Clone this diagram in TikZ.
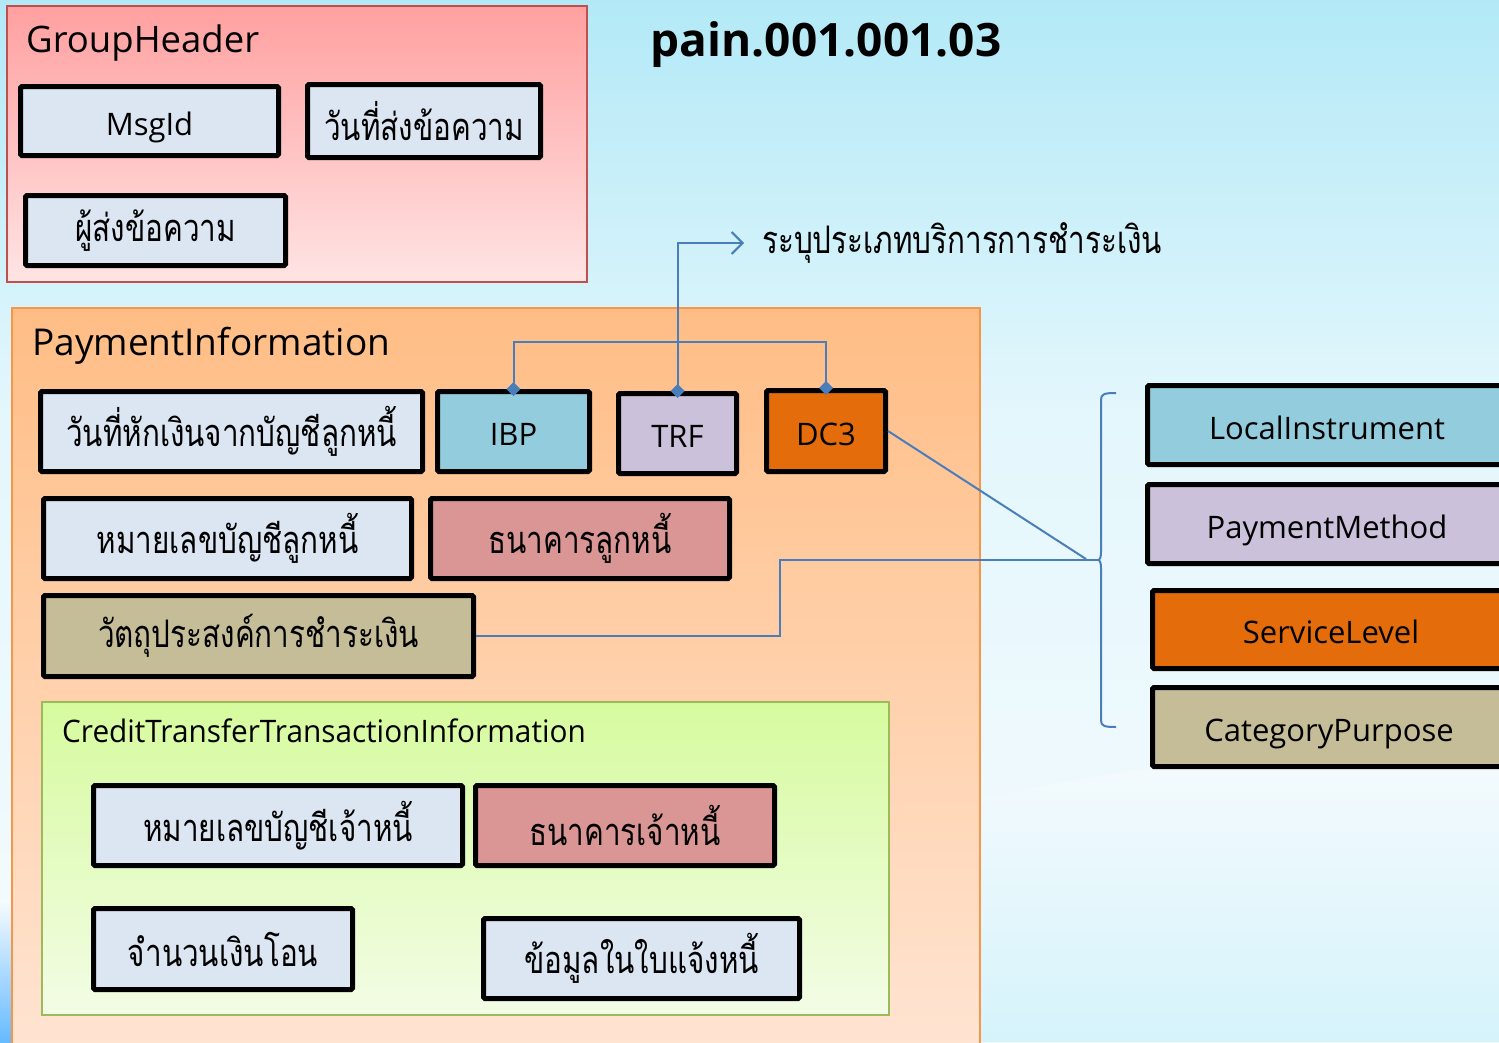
\documentclass[tikz,border=0pt]{standalone}
\usepackage{fontspec}
\setmainfont{Open Sans}
\newfontfamily\thaifont[Script=Thai, FakeStretch=0.78]{Loma}
\usetikzlibrary{arrows.meta}
\newcommand\setfs[1]{\fontsize{#1}{#1}\selectfont}
\definecolor{bgtop}{HTML}{B3E9F7}
\definecolor{bgmid}{HTML}{E4F7FC}
\definecolor{bgbot}{HTML}{F6FBFE}
\definecolor{cLight}{HTML}{DCE6F2}
\definecolor{cBlue}{HTML}{93CDDD}
\definecolor{cLilac}{HTML}{CCC1DA}
\definecolor{cOrange}{HTML}{E46C0A}
\definecolor{cRose}{HTML}{D99694}
\definecolor{cKhaki}{HTML}{C4BD97}
\definecolor{cLine}{HTML}{4A7EBB}
\definecolor{ghTop}{HTML}{FFA0A0}
\definecolor{ghBot}{HTML}{FFE4E4}
\definecolor{ghBorder}{HTML}{C0504D}
\definecolor{piTop}{HTML}{FFBD85}
\definecolor{piBot}{HTML}{FFE6D6}
\definecolor{piBorder}{HTML}{F79646}
\definecolor{ctTop}{HTML}{D6FB9E}
\definecolor{ctBot}{HTML}{F3FCE6}
\definecolor{ctBorder}{HTML}{9BBB59}
\begin{document}
\begin{tikzpicture}[x=1pt,y=-1pt,
  item/.style={draw=black, line width=5pt, rounded corners=1.5pt, inner sep=0pt, font=\setfs{31}, text height=28pt, text depth=0pt},
  thitem/.style={draw=black, line width=5pt, rounded corners=1.5pt, inner sep=0pt, font={\thaifont\setfs{38}}},
  group/.style={line width=2pt, inner sep=0pt},
  label/.style={inner sep=0pt, anchor=base west},
  conn/.style={draw=cLine, line width=2pt}
]
\useasboundingbox (0,0) rectangle (1499,1042);
\clip (0,0) rectangle (1499,1042);
% background
\shade[top color=bgtop, bottom color=bgmid] (0,0) rectangle (1499,420);
\shade[top color=bgmid, bottom color=bgbot] (0,420) rectangle (1499,1042);
\shade[top color=bgbot, bottom color=bgmid!70!bgtop] (980,800) .. controls (1100,770) and (1300,740) .. (1499,760) -- (1499,1042) -- (980,1042) -- cycle;
\shade[top color=bgbot, bottom color=cyan!55!blue!60] (0,900) rectangle (14,1042);

% groups
\node[group, draw=ghBorder, top color=ghTop, bottom color=ghBot, minimum width=580pt, minimum height=276pt] (gh) at (297,144) {};
\node[group, draw=piBorder, top color=piTop, bottom color=piBot, minimum width=968pt, minimum height=780pt] (pi) at (496,698) {};
\node[group, draw=ctBorder, top color=ctTop, bottom color=ctBot, minimum width=847pt, minimum height=313pt] (ct) at (465.5,858.5) {};

\node[label, font=\setfs{36.5}] (ghlabel) at (26,52) {GroupHeader};
\node[label, font=\setfs{37}] (pilabel) at (32,355) {PaymentInformation};
\node[label, font=\setfs{31}] (ctlabel) at (62,742) {\scalebox{0.96}[1]{CreditTransferTransactionInformation}};
\node[inner sep=0pt, font=\bfseries\setfs{46}] (title) at (826,45) {pain.001.001.03};

% GroupHeader items
\node[item, fill=cLight, minimum width=258pt, minimum height=69pt] (msgid) at (149.5,121) {MsgId};
\node[thitem, fill=cLight, minimum width=233pt, minimum height=73pt] (sentdate) at (424,121) {วันที่ส่งข้อความ};
\node[thitem, fill=cLight, minimum width=260pt, minimum height=70pt] (sender) at (155.5,230.5) {ผู้ส่งข้อความ};

% PaymentInformation items
\node[thitem, fill=cLight, minimum width=382pt, minimum height=80pt] (debitdate) at (231.5,431.5) {วันที่หักเงินจากบัญชีลูกหนี้};
\node[item, fill=cBlue, minimum width=152pt, minimum height=80pt] (ibp) at (513.5,431.5) {IBP};
\node[item, fill=cLilac, minimum width=118pt, minimum height=80pt] (trf) at (677.5,433.5) {TRF};
\node[item, fill=cOrange, minimum width=119pt, minimum height=81pt] (dc3) at (826,431) {DC3};
\node[thitem, fill=cLight, minimum width=368pt, minimum height=80pt] (debtacct) at (227.5,538.5) {หมายเลขบัญชีลูกหนี้};
\node[thitem, fill=cRose, minimum width=299pt, minimum height=80pt] (debtbank) at (580,538.5) {ธนาคารลูกหนี้};
\node[thitem, fill=cKhaki, minimum width=430pt, minimum height=81pt] (purpose) at (258.5,636) {วัตถุประสงค์การชำระเงิน};

% CreditTransfer items
\node[thitem, fill=cLight, minimum width=369pt, minimum height=80pt] (credacct) at (278,825.5) {หมายเลขบัญชีเจ้าหนี้};
\node[thitem, fill=cRose, minimum width=299pt, minimum height=80pt] (credbank) at (625,825.5) {ธนาคารเจ้าหนี้};
\node[thitem, fill=cLight, minimum width=259pt, minimum height=81pt] (amount) at (223,949) {จำนวนเงินโอน};
\node[thitem, fill=cLight, minimum width=316pt, minimum height=80pt] (invoice) at (641.5,958.5) {ข้อมูลในใบแจ้งหนี้};

% right column
\node[item, fill=cBlue, minimum width=359pt, minimum height=79pt] (local) at (1327,425) {LocalInstrument};
\node[item, fill=cLilac, minimum width=359pt, minimum height=79pt] (paymethod) at (1327,524) {PaymentMethod};
\node[item, fill=cOrange, minimum width=357pt, minimum height=78pt] (service) at (1331,629.5) {ServiceLevel};
\node[item, fill=cKhaki, minimum width=353pt, minimum height=79pt] (category) at (1329,727) {CategoryPurpose};

% annotation
\node[inner sep=10pt, anchor=west, font={\thaifont\setfs{38}}] (svc) at (752,243) {ระบุประเภทบริการการชำระเงิน};

% connectors
\coordinate (ybar) at (0,342);
\coordinate (mid) at (780,560);
\coordinate (bt) at (1099,560);
\coordinate (join) at (1086,559);
\draw[conn, {Diamond[length=14pt,width=14pt,fill=cLine]}-{Diamond[length=14pt,width=14pt,fill=cLine]}]
  ([yshift=-7pt]ibp.north) -- (ibp.north |- ybar) -- (dc3.north |- ybar) -- ([yshift=-7pt]dc3.north);
\draw[conn, {Diamond[length=14pt,width=14pt,fill=cLine]}-{Straight Barb[length=11pt,width=22pt,line width=2pt]}]
  ([yshift=-7pt]trf.north) |- ([xshift=-8pt]svc.west);
\draw[conn] (dc3.east) -- (join);
\draw[conn] (purpose.east) -- (purpose.east -| mid) -- (mid) -- (bt);
\draw[conn] (1116,393) .. controls (1104,393) and (1101,394) .. (1101,400) -- (1101,552)
  .. controls (1101,557) and (1100,559) .. (bt) .. controls (1100,561) and (1101,563) .. (1101,568)
  -- (1101,720) .. controls (1101,726) and (1104,727) .. (1116,727);
\end{tikzpicture}
\end{document}
